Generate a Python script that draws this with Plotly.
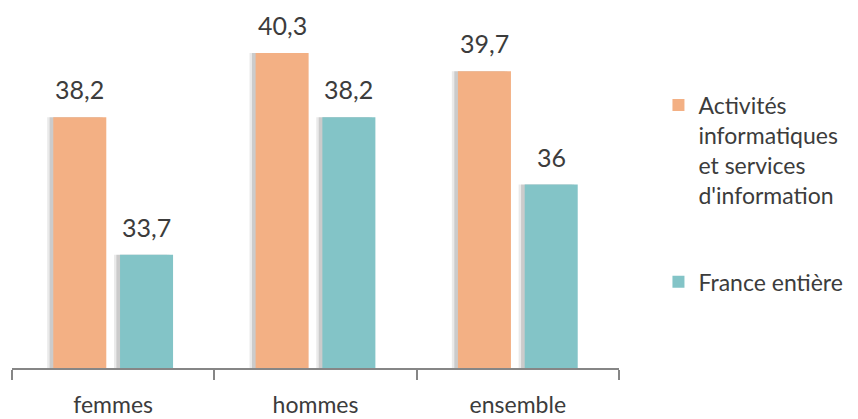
import plotly.graph_objects as go

categories = ["femmes", "hommes", "ensemble"]
series_names = ["Activités<br>informatiques<br>et services<br>d'information", "France entière"]
activites = [38.2, 40.3, 39.7]
france = [33.7, 38.2, 36.0]

orange = "#F3B084"
teal = "#83C4C7"
txt = "#3c3c3c"
font_family = "Lato, 'Open Sans', sans-serif"
W = 400

def fmt(v):
    s = ("%g" % v)
    return s.replace(".", ",")

bar_w = 0.262
off_a = -0.296
off_b = 0.034

fig = go.Figure()
# soft shadows behind bars (gradient made of two strips)
for vals, off in ((activites, off_a), (france, off_b)):
    for sh, a in ((0.03, 0.12), (0.018, 0.2)):
        fig.add_trace(go.Bar(x=categories, y=[v - 30 for v in vals], base=30,
                             offset=off - sh, width=bar_w,
                             marker=dict(color="rgba(80,80,80,%s)" % a, line=dict(width=0)),
                             hoverinfo="skip", showlegend=False))

fig.add_trace(go.Bar(x=categories, y=[v - 30 for v in activites], base=30,
                     name=series_names[0], offset=off_a, width=bar_w,
                     legendgroup="a",
                     marker=dict(color=orange, line=dict(width=0))))
fig.add_trace(go.Bar(x=categories, y=[v - 30 for v in france], base=30,
                     name=series_names[1], offset=off_b, width=bar_w,
                     legendgroup="b",
                     marker=dict(color=teal, line=dict(width=0))))

annotations = []
for vals, off in ((activites, off_a), (france, off_b)):
    for i, v in enumerate(vals):
        annotations.append(dict(x=i + off + bar_w / 2, y=v, xref="x", yref="y",
                                text=fmt(v), showarrow=False, yanchor="bottom",
                                yshift=11,
                                font=dict(size=25, color=txt, family=font_family, weight=W)))

fig.update_layout(
    width=858, height=419,
    barmode="overlay",
    margin=dict(l=12, r=239, t=1, b=44),
    paper_bgcolor="white", plot_bgcolor="white",
    font=dict(family=font_family, color=txt, size=23, weight=W),
    annotations=annotations,
    legend=dict(x=1.065, xanchor="left", xref="paper", y=0.775, yanchor="top",
                font=dict(size=23, color=txt, family=font_family, weight=W),
                traceorder="grouped", tracegroupgap=54, valign="top",
                itemwidth=30, bgcolor="rgba(0,0,0,0)"),
    showlegend=True,
)
fig.update_xaxes(showline=True, linecolor="#868686", linewidth=2,
                 ticks="outside", ticklen=10, tickcolor="#868686", tickwidth=2,
                 tickson="boundaries", showgrid=False, ticklabelstandoff=15,
                 range=[-0.5, 2.5],
                 tickfont=dict(size=23, color=txt, family=font_family, weight=W))
fig.update_yaxes(range=[30, 42], visible=False, showgrid=False)

fig.write_html("out.html", config={"displayModeBar": False},
               post_script="document.body.style.margin='0px';")
